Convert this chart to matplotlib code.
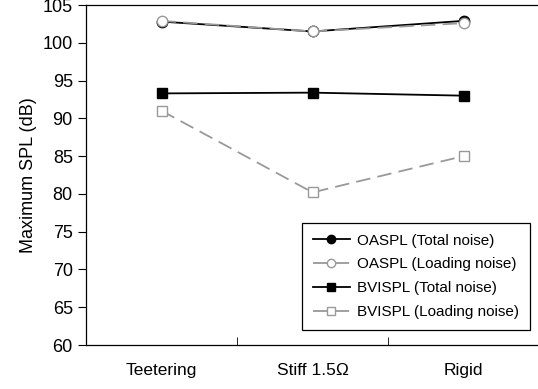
import numpy as np
import matplotlib.pyplot as plt

plt.rcParams['font.family'] = ['Liberation Sans', 'DejaVu Sans']

configs = ["Teetering", "Stiff 1.5\u03a9", "Rigid"]
oaspl_total = [102.8, 101.5, 102.9]
oaspl_loading = [102.9, 101.5, 102.6]
bvispl_total = [93.3, 93.4, 93.0]
bvispl_loading = [91.0, 80.2, 85.0]

gray = "#999999"
x = np.arange(len(configs))

fig = plt.figure(figsize=(5.38, 3.89), dpi=100)
ax = fig.add_axes([86 / 538, 44 / 389, 453 / 538, 340 / 389])

ax.plot(x, oaspl_total, color="black", lw=1.3, marker="o", ms=7.5,
        mfc="black", mec="black", label="OASPL (Total noise)")
ax.plot(x, oaspl_loading, color=gray, lw=1.3, ls=(0, (8, 4)), marker="o", ms=7.5,
        mfc="white", mec=gray, label="OASPL (Loading noise)")
ax.plot(x, bvispl_total, color="black", lw=1.3, marker="s", ms=7.5,
        mfc="black", mec="black", label="BVISPL (Total noise)")
ax.plot(x, bvispl_loading, color=gray, lw=1.3, ls=(0, (8, 4)), marker="s", ms=7.5,
        mfc="white", mec=gray, label="BVISPL (Loading noise)")

ax.set_xlim(-0.5, 2.5)
ax.set_ylim(60, 105)
ax.set_yticks(np.arange(60, 106, 5))
ax.set_xticks(x)
ax.set_xticklabels(configs)
ax.set_xticks([0.5, 1.5], minor=True)
ax.tick_params(axis="x", which="major", length=0, pad=13, labelsize=12.5)
ax.tick_params(axis="x", which="minor", direction="in", length=6)
ax.tick_params(axis="y", direction="out", length=6, labelsize=13)
ax.set_ylabel("Maximum SPL (dB)", fontsize=13, labelpad=4)
for s in ax.spines.values():
    s.set_linewidth(0.9)

leg = ax.legend(loc="lower right", bbox_to_anchor=(0.98, 0.044), fontsize=11,
                handlelength=2.4, handletextpad=0.5, fancybox=False,
                edgecolor="black", framealpha=1, borderpad=0.7,
                labelspacing=0.65, markerscale=0.8, borderaxespad=0)
leg.get_frame().set_linewidth(0.9)

fig.savefig("out.png", dpi=100)
